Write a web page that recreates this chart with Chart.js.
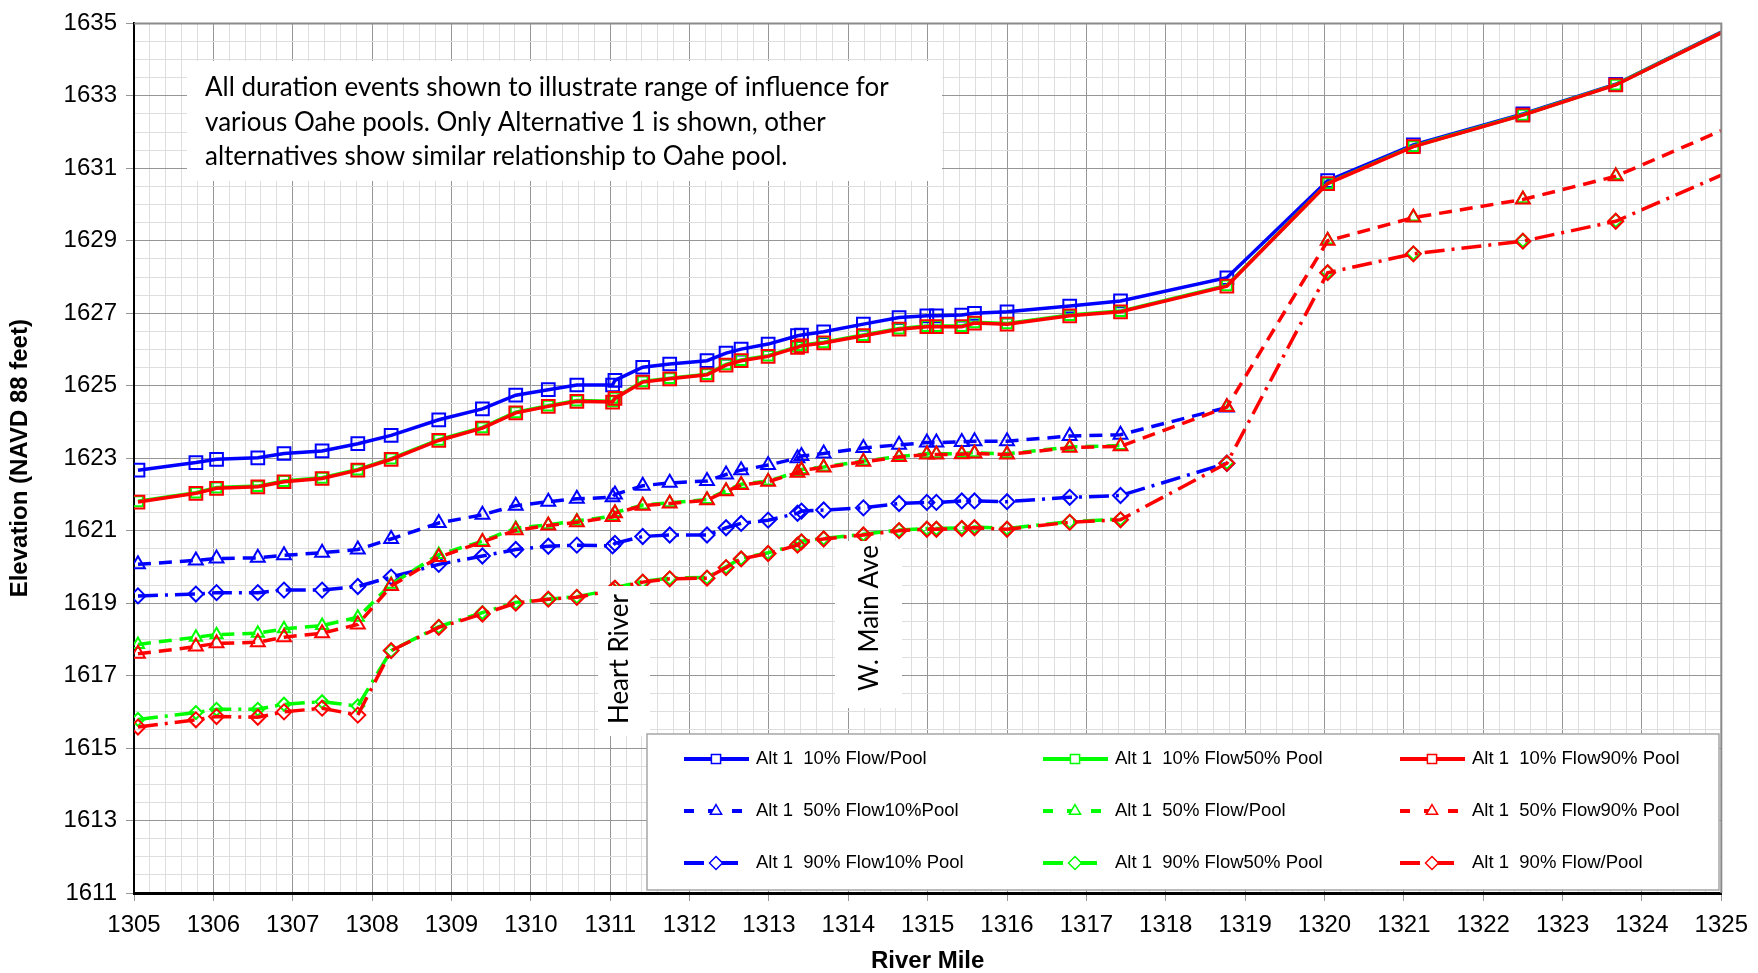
<!DOCTYPE html>
<html>
<head>
<meta charset="utf-8">
<script src="https://cdn.jsdelivr.net/npm/chart.js@4.4.1/dist/chart.umd.min.js"></script>
<style>
  html, body { margin: 0; padding: 0; background: #fff; }
  canvas { display: block; }
</style>
</head>
<body>
<canvas id="profileChart" width="1758" height="973"></canvas>
<script>
'use strict';

// River mile of every computed cross section
const riverMiles = [1305.05, 1305.78, 1306.04, 1306.56, 1306.89, 1307.37, 1307.82, 1308.24, 1308.84, 1309.39,
    1309.81, 1310.22, 1310.58, 1311.03, 1311.06, 1311.41, 1311.75, 1312.22, 1312.46, 1312.65,
    1312.99, 1313.36, 1313.41, 1313.69, 1314.19, 1314.64, 1314.99, 1315.11, 1315.43, 1315.59,
    1316.0, 1316.79, 1317.43, 1318.77, 1320.04, 1321.12, 1322.5, 1323.67, 1325.0];

// Water surface elevations (NAVD 88 feet)
const flow10Pool10 = [1622.67, 1622.88, 1622.97, 1623.01, 1623.13, 1623.20, 1623.40, 1623.63, 1624.06, 1624.36,
    1624.74, 1624.89, 1625.02, 1625.02, 1625.15, 1625.51, 1625.60, 1625.69, 1625.90, 1626.01,
    1626.15, 1626.38, 1626.40, 1626.49, 1626.70, 1626.88, 1626.93, 1626.93, 1626.95, 1627.00,
    1627.04, 1627.20, 1627.34, 1627.98, 1630.66, 1631.65, 1632.50, 1633.32, 1634.76];
const flow10Pool50 = [1621.81, 1622.05, 1622.19, 1622.23, 1622.37, 1622.46, 1622.69, 1622.99, 1623.51, 1623.85,
    1624.27, 1624.45, 1624.59, 1624.57, 1624.67, 1625.12, 1625.21, 1625.32, 1625.59, 1625.71,
    1625.83, 1626.08, 1626.12, 1626.20, 1626.40, 1626.58, 1626.65, 1626.65, 1626.65, 1626.75,
    1626.72, 1626.95, 1627.06, 1627.77, 1630.59, 1631.61, 1632.48, 1633.31, 1634.75];
const flow10Pool90 = [1621.79, 1622.03, 1622.17, 1622.21, 1622.35, 1622.44, 1622.67, 1622.97, 1623.49, 1623.83,
    1624.25, 1624.43, 1624.57, 1624.55, 1624.65, 1625.10, 1625.19, 1625.30, 1625.57, 1625.69,
    1625.81, 1626.06, 1626.10, 1626.18, 1626.38, 1626.56, 1626.63, 1626.63, 1626.63, 1626.73,
    1626.70, 1626.93, 1627.04, 1627.75, 1630.58, 1631.60, 1632.47, 1633.30, 1634.74];

const flow50Pool10 = [1620.07, 1620.18, 1620.23, 1620.25, 1620.32, 1620.39, 1620.48, 1620.77, 1621.21, 1621.44,
    1621.69, 1621.80, 1621.88, 1621.92, 1622.00, 1622.24, 1622.32, 1622.37, 1622.55, 1622.67,
    1622.81, 1623.00, 1623.06, 1623.13, 1623.28, 1623.37, 1623.43, 1623.43, 1623.45, 1623.47,
    1623.47, 1623.61, 1623.65, 1624.40];
const flow50Pool50 = [1617.86, 1618.06, 1618.13, 1618.17, 1618.29, 1618.38, 1618.61, 1619.52, 1620.34, 1620.71,
    1621.07, 1621.16, 1621.27, 1621.40, 1621.50, 1621.71, 1621.77, 1621.86, 1622.11, 1622.28,
    1622.37, 1622.62, 1622.69, 1622.76, 1622.92, 1623.05, 1623.12, 1623.12, 1623.13, 1623.15,
    1623.12, 1623.31, 1623.35, 1624.41, 1629.02, 1629.66, 1630.16, 1630.80, 1632.04];
const flow50Pool90 = [1617.60, 1617.80, 1617.89, 1617.92, 1618.06, 1618.17, 1618.41, 1619.47, 1620.27, 1620.69,
    1621.01, 1621.14, 1621.23, 1621.38, 1621.48, 1621.69, 1621.75, 1621.84, 1622.09, 1622.26,
    1622.35, 1622.60, 1622.67, 1622.74, 1622.90, 1623.03, 1623.10, 1623.10, 1623.11, 1623.13,
    1623.10, 1623.29, 1623.33, 1624.41, 1629.00, 1629.64, 1630.14, 1630.78, 1632.04];

const flow90Pool10 = [1619.20, 1619.25, 1619.29, 1619.29, 1619.36, 1619.36, 1619.46, 1619.72, 1620.07, 1620.30,
    1620.48, 1620.57, 1620.60, 1620.58, 1620.65, 1620.84, 1620.88, 1620.88, 1621.08, 1621.20,
    1621.29, 1621.48, 1621.54, 1621.57, 1621.63, 1621.75, 1621.78, 1621.78, 1621.82, 1621.82,
    1621.80, 1621.92, 1621.97, 1622.86];
const flow90Pool50 = [1615.79, 1615.98, 1616.07, 1616.07, 1616.21, 1616.28, 1616.16, 1617.69, 1618.35, 1618.74,
    1619.02, 1619.11, 1619.18, 1619.37, 1619.43, 1619.60, 1619.69, 1619.71, 1620.00, 1620.24,
    1620.39, 1620.62, 1620.71, 1620.79, 1620.90, 1621.02, 1621.06, 1621.06, 1621.08, 1621.10,
    1621.06, 1621.25, 1621.32, 1622.88, 1628.14, 1628.66, 1629.01, 1629.56, 1630.81];
const flow90Pool90 = [1615.58, 1615.78, 1615.87, 1615.85, 1616.00, 1616.10, 1615.91, 1617.69, 1618.33, 1618.70,
    1619.00, 1619.11, 1619.16, 1619.35, 1619.41, 1619.58, 1619.67, 1619.69, 1619.98, 1620.22,
    1620.37, 1620.60, 1620.69, 1620.77, 1620.88, 1621.00, 1621.04, 1621.04, 1621.06, 1621.08,
    1621.04, 1621.23, 1621.30, 1622.86, 1628.12, 1628.64, 1628.99, 1629.54, 1630.81];

const seriesLabels = [
    'Alt 1  10% Flow/Pool', 'Alt 1  10% Flow50% Pool', 'Alt 1  10% Flow90% Pool',
    'Alt 1  50% Flow10%Pool', 'Alt 1  50% Flow/Pool', 'Alt 1  50% Flow90% Pool',
    'Alt 1  90% Flow10% Pool', 'Alt 1  90% Flow50% Pool', 'Alt 1  90% Flow/Pool'
];

const xTickLabels = [1305, 1306, 1307, 1308, 1309, 1310, 1311, 1312, 1313, 1314, 1315,
    1316, 1317, 1318, 1319, 1320, 1321, 1322, 1323, 1324, 1325];
const yTickLabels = [1611, 1613, 1615, 1617, 1619, 1621, 1623, 1625, 1627, 1629, 1631, 1633, 1635];

const noteLines = [
    'All duration events shown to illustrate range of influence for',
    'various Oahe pools. Only Alternative 1 is shown, other',
    'alternatives show similar relationship to Oahe pool.'
];

const BLUE = '#0000ff', GREEN = '#00ff00', RED = '#ff0000';
const DASH = [13, 8];
const DASH_DOT = [20, 7, 3, 7];

const isWhole = v => Math.abs(v - Math.round(v)) < 1e-6;

function makeSeries(label, values, color, dash, marker, radius, order, hideFrom) {
    const ds = {
        label: label,
        data: values.map((v, i) => ({ x: riverMiles[i], y: v })),
        borderColor: color,
        backgroundColor: 'rgba(0,0,0,0)',
        borderWidth: 3.5,
        borderDash: dash,
        pointStyle: marker,
        pointRadius: ctx => (ctx.raw && ctx.raw.x >= 1325 ? 0 : radius),
        pointBorderColor: color,
        pointBackgroundColor: 'rgba(0,0,0,0)',
        pointBorderWidth: 2,
        tension: 0,
        order: order
    };
    // green lines lie exactly under the red ones downstream
    if (hideFrom) {
        ds.segment = { borderColor: c => (c.p0.parsed.x >= hideFrom ? 'rgba(0,0,0,0)' : color) };
    }
    return ds;
}

const datasets = [
    makeSeries(seriesLabels[0], flow10Pool10, BLUE, [], 'rect', 9, 2),
    makeSeries(seriesLabels[1], flow10Pool50, GREEN, [], 'rect', 7, 1),
    makeSeries(seriesLabels[2], flow10Pool90, RED, [], 'rect', 9, 0),
    makeSeries(seriesLabels[3], flow50Pool10, BLUE, DASH, 'triangle', 8, 2),
    makeSeries(seriesLabels[4], flow50Pool50, GREEN, DASH, 'triangle', 7, 1, 1317.4),
    makeSeries(seriesLabels[5], flow50Pool90, RED, DASH, 'triangle', 8, 0),
    makeSeries(seriesLabels[6], flow90Pool10, BLUE, DASH_DOT, 'rectRot', 7.5, 2),
    makeSeries(seriesLabels[7], flow90Pool50, GREEN, DASH_DOT, 'rectRot', 6.5, 1, 1317.4),
    makeSeries(seriesLabels[8], flow90Pool90, RED, DASH_DOT, 'rectRot', 7.5, 0)
];

function drawMarker(ctx, style, x, y, r) {
    ctx.beginPath();
    if (style === 'rect') {
        const s = r * Math.SQRT1_2;
        ctx.rect(x - s, y - s, 2 * s, 2 * s);
    } else if (style === 'triangle') {
        ctx.moveTo(x, y - r);
        ctx.lineTo(x + r * 0.866, y + r * 0.5);
        ctx.lineTo(x - r * 0.866, y + r * 0.5);
        ctx.closePath();
    } else {
        ctx.moveTo(x, y - r);
        ctx.lineTo(x + r, y);
        ctx.lineTo(x, y + r);
        ctx.lineTo(x - r, y);
        ctx.closePath();
    }
    ctx.fill();
    ctx.stroke();
}

// White text boxes, frame and the boxed legend drawn over the plot
const overlayPlugin = {
    id: 'overlay',
    afterDatasetsDraw(chart) {
        const ctx = chart.ctx;
        const area = chart.chartArea;
        ctx.save();

        // top / right frame
        ctx.strokeStyle = '#8a8a8a';
        ctx.lineWidth = 2;
        ctx.beginPath();
        ctx.moveTo(area.left, area.top);
        ctx.lineTo(area.right, area.top);
        ctx.lineTo(area.right, area.bottom);
        ctx.stroke();

        // note box
        ctx.fillStyle = '#fff';
        ctx.fillRect(187, 61, 755, 120);
        ctx.fillStyle = '#000';
        ctx.font = '26px Lato, "Open Sans", sans-serif';
        ctx.textBaseline = 'alphabetic';
        ctx.textAlign = 'left';
        noteLines.forEach((line, i) => ctx.fillText(line, 205, 96 + i * 34.7));

        // place labels
        const places = [
            { text: 'Heart River', box: [598, 586, 52, 150], cx: 620, cy: 659 },
            { text: 'W. Main Ave', box: [835, 541, 67, 167], cx: 870, cy: 618 }
        ];
        places.forEach(p => {
            ctx.fillStyle = '#fff';
            ctx.fillRect(p.box[0], p.box[1], p.box[2], p.box[3]);
            ctx.save();
            ctx.translate(p.cx, p.cy);
            ctx.rotate(-Math.PI / 2);
            ctx.fillStyle = '#000';
            ctx.textAlign = 'center';
            ctx.textBaseline = 'middle';
            ctx.font = '26px Lato, "Open Sans", sans-serif';
            ctx.fillText(p.text, 0, 0);
            ctx.restore();
        });

        // legend
        const box = { left: 647, top: 734, right: 1719, bottom: 890 };
        ctx.fillStyle = '#fff';
        ctx.fillRect(box.left, box.top, box.right - box.left, box.bottom - box.top);
        ctx.strokeStyle = '#a6a6a6';
        ctx.lineWidth = 1.5;
        ctx.strokeRect(box.left, box.top, box.right - box.left, box.bottom - box.top);

        const colX = [684, 1043, 1400];
        const rowY = [759, 811, 863];
        chart.data.datasets.forEach((ds, i) => {
            const x0 = colX[i % 3];
            const y0 = rowY[Math.floor(i / 3)];
            ctx.strokeStyle = ds.borderColor;
            ctx.lineWidth = 4;
            ctx.setLineDash(ds.borderDash.length ? (ds.borderDash.length === 2 ? [10, 14] : [20, 14]) : []);
            ctx.beginPath();
            ctx.moveTo(x0, y0);
            ctx.lineTo(x0 + 65, y0);
            ctx.stroke();
            ctx.setLineDash([]);
            ctx.fillStyle = '#fff';
            ctx.lineWidth = 1.5;
            drawMarker(ctx, ds.pointStyle, x0 + 32, y0, ds.pointStyle === 'rect' ? 6.5 : 6.5);
            ctx.fillStyle = '#000';
            ctx.font = '18.5px "Liberation Sans", Arial, sans-serif';
            ctx.textAlign = 'left';
            ctx.textBaseline = 'middle';
            ctx.fillText(ds.label, x0 + 72, y0);
        });
        ctx.restore();
    }
};

new Chart(document.getElementById('profileChart'), {
    type: 'line',
    data: { datasets: datasets },
    plugins: [overlayPlugin],
    options: {
        responsive: false,
        animation: false,
        layout: { padding: { top: 19, right: 31, bottom: 0, left: 0 } },
        plugins: {
            legend: { display: false },
            tooltip: { enabled: false }
        },
        scales: {
            x: {
                type: 'linear',
                min: 1305,
                max: 1325,
                afterFit: s => { s.height = 80; },
                ticks: {
                    stepSize: 0.2,
                    autoSkip: false,
                    maxRotation: 0,
                    minRotation: 0,
                    padding: 10,
                    color: '#000',
                    font: { family: '"Liberation Sans", Arial, sans-serif', size: 24 },
                    callback: v => (isWhole(v) && xTickLabels.includes(Math.round(v)) ? String(Math.round(v)) : '')
                },
                grid: {
                    color: c => (isWhole(c.tick.value) ? '#969696' : '#dedede'),
                    tickColor: c => (isWhole(c.tick.value) ? '#969696' : 'rgba(0,0,0,0)'),
                    tickLength: 8,
                    lineWidth: 1
                },
                border: { color: '#000', width: 3 },
                title: {
                    display: true,
                    text: 'River Mile',
                    color: '#000',
                    font: { family: '"Liberation Sans", Arial, sans-serif', size: 24, weight: 'bold', lineHeight: 1 },
                    padding: { top: 0, bottom: 0 }
                }
            },
            y: {
                type: 'linear',
                min: 1611,
                max: 1635,
                afterFit: s => { s.width = 134; },
                ticks: {
                    stepSize: 0.5,
                    autoSkip: false,
                    padding: 9,
                    color: '#000',
                    font: { family: '"Liberation Sans", Arial, sans-serif', size: 24 },
                    callback: v => (isWhole(v) && yTickLabels.includes(Math.round(v)) ? String(Math.round(v)) : '')
                },
                grid: {
                    color: c => (isWhole(c.tick.value) && Math.round(c.tick.value) % 2 === 1 ? '#969696' : '#dedede'),
                    tickColor: c => (isWhole(c.tick.value) && Math.round(c.tick.value) % 2 === 1 ? '#969696' : 'rgba(0,0,0,0)'),
                    tickLength: 8,
                    lineWidth: 1
                },
                border: { color: '#000', width: 2 },
                title: {
                    display: true,
                    text: 'Elevation (NAVD 88 feet)',
                    color: '#000',
                    font: { family: '"Liberation Sans", Arial, sans-serif', size: 24, weight: 'bold', lineHeight: 1.2 },
                    padding: { top: 6, bottom: 0 }
                }
            }
        }
    }
});
</script>
</body>
</html>
